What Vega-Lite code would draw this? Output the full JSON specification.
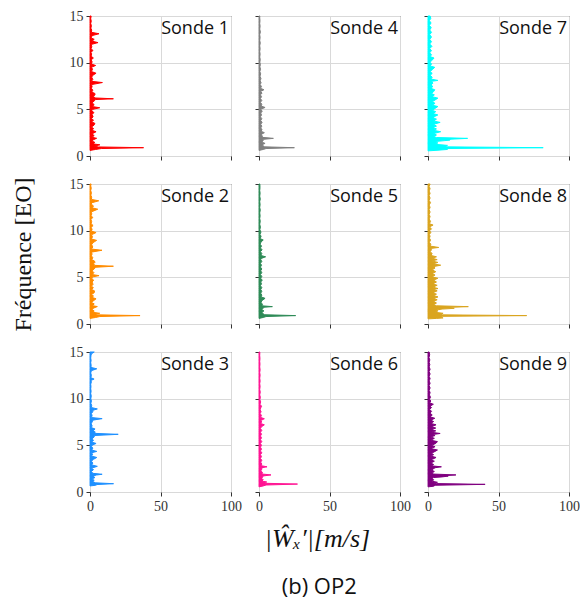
{
"$schema": "https://vega.github.io/schema/vega-lite/v6.json",
"background": "white",
"padding": {"left": 10, "top": 8, "right": 6, "bottom": 4},
"bounds": "flush",
"columns": 3,
"spacing": {"row": 28, "column": 28},
"title": {"text": "(b) OP2", "orient": "bottom", "anchor": "middle", "font": "Open Sans", "fontSize": 22, "fontWeight": "normal", "color": "#111", "offset": 25, "dx": 24},
"config": {
  "view": {"stroke": "#333", "strokeWidth": 1},
  "scale": {"nice": false},
  "axis": {"grid": true, "gridColor": "#d9d9d9", "gridWidth": 1, "domain": false, "tickColor": "#333", "tickSize": 4, "labelFont": "Liberation Serif", "labelFontSize": 14, "labelColor": "#333", "labelFlush": false, "labelPadding": 3, "title": null}
},
"data": {"values": [
{"s":1,"f":0.6,"a":0},{"s":1,"f":0.7,"a":4},{"s":1,"f":0.8,"a":8},{"s":1,"f":0.89,"a":38},{"s":1,"f":0.97,"a":6},{"s":1,"f":1.05,"a":3},{"s":1,"f":1.2,"a":7},{"s":1,"f":1.3,"a":2},{"s":1,"f":1.45,"a":3.5},{"s":1,"f":1.6,"a":1.5},{"s":1,"f":1.75,"a":2.5},{"s":1,"f":1.9,"a":4.7},{"s":1,"f":2.0,"a":1.5},{"s":1,"f":2.2,"a":3},{"s":1,"f":2.35,"a":1.2},{"s":1,"f":2.6,"a":4.3},{"s":1,"f":2.75,"a":1.5},{"s":1,"f":2.95,"a":2.5},{"s":1,"f":3.1,"a":1},{"s":1,"f":3.3,"a":2.8},{"s":1,"f":3.5,"a":3.5},{"s":1,"f":3.65,"a":1.2},{"s":1,"f":3.85,"a":2.5},{"s":1,"f":4.0,"a":1},{"s":1,"f":4.2,"a":2.2},{"s":1,"f":4.45,"a":1.5},{"s":1,"f":4.65,"a":2.8},{"s":1,"f":4.85,"a":1.2},{"s":1,"f":5.0,"a":2},{"s":1,"f":5.17,"a":6.9},{"s":1,"f":5.3,"a":1.5},{"s":1,"f":5.5,"a":3},{"s":1,"f":5.7,"a":1.5},{"s":1,"f":5.9,"a":3},{"s":1,"f":6.05,"a":4},{"s":1,"f":6.13,"a":16.6},{"s":1,"f":6.22,"a":3.5},{"s":1,"f":6.4,"a":2.5},{"s":1,"f":6.55,"a":3.5},{"s":1,"f":6.7,"a":3.5},{"s":1,"f":6.85,"a":1.2},{"s":1,"f":7.05,"a":2},{"s":1,"f":7.25,"a":1},{"s":1,"f":7.45,"a":1.5},{"s":1,"f":7.65,"a":1},{"s":1,"f":7.87,"a":8.8},{"s":1,"f":8.0,"a":1},{"s":1,"f":8.2,"a":2},{"s":1,"f":8.45,"a":1.2},{"s":1,"f":8.65,"a":2},{"s":1,"f":8.87,"a":4.3},{"s":1,"f":9.05,"a":1},{"s":1,"f":9.3,"a":1.8},{"s":1,"f":9.5,"a":1},{"s":1,"f":9.7,"a":4},{"s":1,"f":9.85,"a":1},{"s":1,"f":10.1,"a":1.5},{"s":1,"f":10.3,"a":0.8},{"s":1,"f":10.5,"a":2.4},{"s":1,"f":10.7,"a":0.8},{"s":1,"f":10.95,"a":1.2},{"s":1,"f":11.1,"a":0.6},{"s":1,"f":11.3,"a":2.1},{"s":1,"f":11.5,"a":0.8},{"s":1,"f":11.7,"a":1.3},{"s":1,"f":11.95,"a":0.8},{"s":1,"f":12.15,"a":5.7},{"s":1,"f":12.3,"a":1.5},{"s":1,"f":12.5,"a":3},{"s":1,"f":12.65,"a":0.8},{"s":1,"f":12.9,"a":1.5},{"s":1,"f":13.1,"a":6.4},{"s":1,"f":13.25,"a":1},{"s":1,"f":13.5,"a":1.2},{"s":1,"f":13.7,"a":0.6},{"s":1,"f":13.95,"a":1},{"s":1,"f":14.2,"a":0.5},{"s":1,"f":14.45,"a":0.9},{"s":1,"f":14.7,"a":0.5},{"s":1,"f":15,"a":0.8},
{"s":2,"f":0.6,"a":0},{"s":2,"f":0.7,"a":4},{"s":2,"f":0.8,"a":7},{"s":2,"f":0.9,"a":35.5},{"s":2,"f":0.98,"a":5},{"s":2,"f":1.05,"a":3},{"s":2,"f":1.15,"a":6.9},{"s":2,"f":1.25,"a":2},{"s":2,"f":1.4,"a":3},{"s":2,"f":1.55,"a":1.5},{"s":2,"f":1.7,"a":2.5},{"s":2,"f":1.87,"a":5.2},{"s":2,"f":1.97,"a":1.5},{"s":2,"f":2.15,"a":3},{"s":2,"f":2.3,"a":1.2},{"s":2,"f":2.5,"a":2.5},{"s":2,"f":2.7,"a":4.3},{"s":2,"f":2.85,"a":1.5},{"s":2,"f":3.0,"a":2.5},{"s":2,"f":3.15,"a":1},{"s":2,"f":3.35,"a":3},{"s":2,"f":3.55,"a":3.2},{"s":2,"f":3.7,"a":1.2},{"s":2,"f":3.9,"a":2.4},{"s":2,"f":4.05,"a":1},{"s":2,"f":4.25,"a":2.2},{"s":2,"f":4.5,"a":1.5},{"s":2,"f":4.7,"a":2.6},{"s":2,"f":4.9,"a":1.2},{"s":2,"f":5.05,"a":2},{"s":2,"f":5.18,"a":6.4},{"s":2,"f":5.3,"a":1.5},{"s":2,"f":5.5,"a":2.8},{"s":2,"f":5.7,"a":1.5},{"s":2,"f":5.9,"a":3},{"s":2,"f":6.08,"a":4},{"s":2,"f":6.19,"a":16.6},{"s":2,"f":6.28,"a":3.5},{"s":2,"f":6.45,"a":2.5},{"s":2,"f":6.6,"a":3.5},{"s":2,"f":6.75,"a":3.2},{"s":2,"f":6.9,"a":1.2},{"s":2,"f":7.1,"a":2},{"s":2,"f":7.3,"a":1},{"s":2,"f":7.5,"a":1.5},{"s":2,"f":7.7,"a":1},{"s":2,"f":7.9,"a":8.5},{"s":2,"f":8.03,"a":1},{"s":2,"f":8.25,"a":2},{"s":2,"f":8.5,"a":1.2},{"s":2,"f":8.7,"a":2},{"s":2,"f":8.96,"a":4.7},{"s":2,"f":9.1,"a":1},{"s":2,"f":9.35,"a":1.8},{"s":2,"f":9.55,"a":1},{"s":2,"f":9.8,"a":4.3},{"s":2,"f":9.95,"a":1},{"s":2,"f":10.15,"a":1.5},{"s":2,"f":10.35,"a":0.8},{"s":2,"f":10.55,"a":2.2},{"s":2,"f":10.75,"a":0.8},{"s":2,"f":11.0,"a":1.2},{"s":2,"f":11.2,"a":0.6},{"s":2,"f":11.4,"a":2},{"s":2,"f":11.6,"a":0.8},{"s":2,"f":11.8,"a":1.3},{"s":2,"f":12.0,"a":0.8},{"s":2,"f":12.3,"a":5.5},{"s":2,"f":12.45,"a":1.5},{"s":2,"f":12.65,"a":2.5},{"s":2,"f":12.85,"a":0.8},{"s":2,"f":13.0,"a":1.5},{"s":2,"f":13.2,"a":6.2},{"s":2,"f":13.35,"a":1},{"s":2,"f":13.6,"a":1.2},{"s":2,"f":13.8,"a":0.6},{"s":2,"f":14.05,"a":1},{"s":2,"f":14.3,"a":0.5},{"s":2,"f":14.55,"a":0.9},{"s":2,"f":14.8,"a":0.5},{"s":2,"f":15,"a":0.8},
{"s":3,"f":0.65,"a":0},{"s":3,"f":0.72,"a":4},{"s":3,"f":0.8,"a":5},{"s":3,"f":0.89,"a":16.7},{"s":3,"f":0.98,"a":4},{"s":3,"f":1.1,"a":2},{"s":3,"f":1.25,"a":3},{"s":3,"f":1.4,"a":1.5},{"s":3,"f":1.55,"a":3.5},{"s":3,"f":1.7,"a":2},{"s":3,"f":1.82,"a":4.5},{"s":3,"f":1.9,"a":8.6},{"s":3,"f":2.0,"a":2},{"s":3,"f":2.2,"a":1},{"s":3,"f":2.4,"a":2.5},{"s":3,"f":2.55,"a":1},{"s":3,"f":2.75,"a":5.2},{"s":3,"f":2.9,"a":1.2},{"s":3,"f":3.1,"a":2},{"s":3,"f":3.3,"a":1},{"s":3,"f":3.5,"a":2.5},{"s":3,"f":3.7,"a":4.8},{"s":3,"f":3.85,"a":1},{"s":3,"f":4.05,"a":2},{"s":3,"f":4.2,"a":1},{"s":3,"f":4.35,"a":4.8},{"s":3,"f":4.5,"a":1.2},{"s":3,"f":4.7,"a":2},{"s":3,"f":4.9,"a":1},{"s":3,"f":5.05,"a":2},{"s":3,"f":5.2,"a":4.3},{"s":3,"f":5.35,"a":1.2},{"s":3,"f":5.55,"a":2.5},{"s":3,"f":5.7,"a":1.5},{"s":3,"f":5.9,"a":3},{"s":3,"f":6.05,"a":3},{"s":3,"f":6.18,"a":20},{"s":3,"f":6.28,"a":3.5},{"s":3,"f":6.45,"a":3.5},{"s":3,"f":6.6,"a":2.5},{"s":3,"f":6.75,"a":3.6},{"s":3,"f":6.9,"a":1},{"s":3,"f":7.1,"a":1.5},{"s":3,"f":7.3,"a":0.8},{"s":3,"f":7.5,"a":1.5},{"s":3,"f":7.7,"a":2},{"s":3,"f":7.86,"a":8.6},{"s":3,"f":7.98,"a":1},{"s":3,"f":8.2,"a":1.5},{"s":3,"f":8.4,"a":1},{"s":3,"f":8.6,"a":2},{"s":3,"f":8.75,"a":2},{"s":3,"f":8.9,"a":5.2},{"s":3,"f":9.05,"a":1},{"s":3,"f":9.3,"a":1.2},{"s":3,"f":9.5,"a":0.6},{"s":3,"f":9.75,"a":1},{"s":3,"f":10.0,"a":0.6},{"s":3,"f":10.3,"a":0.9},{"s":3,"f":10.55,"a":0.5},{"s":3,"f":10.8,"a":0.8},{"s":3,"f":11.05,"a":0.5},{"s":3,"f":11.3,"a":0.7},{"s":3,"f":11.55,"a":0.5},{"s":3,"f":11.8,"a":1},{"s":3,"f":11.95,"a":0.6},{"s":3,"f":12.1,"a":2.9},{"s":3,"f":12.25,"a":0.6},{"s":3,"f":12.5,"a":1},{"s":3,"f":12.75,"a":0.5},{"s":3,"f":13.0,"a":1},{"s":3,"f":13.2,"a":4.8},{"s":3,"f":13.35,"a":0.7},{"s":3,"f":13.6,"a":0.8},{"s":3,"f":13.85,"a":0.5},{"s":3,"f":14.1,"a":0.8},{"s":3,"f":14.35,"a":0.5},{"s":3,"f":14.6,"a":0.7},{"s":3,"f":14.8,"a":1},{"s":3,"f":15,"a":3},
{"s":4,"f":0.6,"a":0},{"s":4,"f":0.7,"a":3},{"s":4,"f":0.8,"a":5},{"s":4,"f":0.89,"a":25.1},{"s":4,"f":0.98,"a":4},{"s":4,"f":1.1,"a":3},{"s":4,"f":1.2,"a":2},{"s":4,"f":1.35,"a":4.3},{"s":4,"f":1.5,"a":2},{"s":4,"f":1.65,"a":3},{"s":4,"f":1.78,"a":2.5},{"s":4,"f":1.89,"a":10.2},{"s":4,"f":2.0,"a":2},{"s":4,"f":2.15,"a":2.5},{"s":4,"f":2.3,"a":1.5},{"s":4,"f":2.5,"a":3.8},{"s":4,"f":2.65,"a":1.5},{"s":4,"f":2.85,"a":2.2},{"s":4,"f":3.0,"a":1.2},{"s":4,"f":3.2,"a":2},{"s":4,"f":3.4,"a":1.2},{"s":4,"f":3.6,"a":2.2},{"s":4,"f":3.8,"a":1.2},{"s":4,"f":4.0,"a":2},{"s":4,"f":4.2,"a":1},{"s":4,"f":4.4,"a":1.8},{"s":4,"f":4.6,"a":1.2},{"s":4,"f":4.8,"a":2.3},{"s":4,"f":5.0,"a":1.2},{"s":4,"f":5.2,"a":4.3},{"s":4,"f":5.35,"a":1.5},{"s":4,"f":5.55,"a":2},{"s":4,"f":5.75,"a":1},{"s":4,"f":5.95,"a":2},{"s":4,"f":6.15,"a":1},{"s":4,"f":6.35,"a":1.8},{"s":4,"f":6.55,"a":1},{"s":4,"f":6.75,"a":2.2},{"s":4,"f":6.9,"a":1},{"s":4,"f":7.1,"a":3.5},{"s":4,"f":7.25,"a":1},{"s":4,"f":7.45,"a":1.8},{"s":4,"f":7.65,"a":0.8},{"s":4,"f":7.85,"a":1.5},{"s":4,"f":8.05,"a":0.8},{"s":4,"f":8.3,"a":1.4},{"s":4,"f":8.55,"a":0.7},{"s":4,"f":8.8,"a":1.2},{"s":4,"f":9.05,"a":0.6},{"s":4,"f":9.3,"a":1.1},{"s":4,"f":9.55,"a":0.6},{"s":4,"f":9.8,"a":1},{"s":4,"f":10.05,"a":0.6},{"s":4,"f":10.35,"a":0.9},{"s":4,"f":10.6,"a":0.5},{"s":4,"f":10.9,"a":0.8},{"s":4,"f":11.2,"a":0.5},{"s":4,"f":11.5,"a":0.8},{"s":4,"f":11.8,"a":0.5},{"s":4,"f":12.1,"a":0.9},{"s":4,"f":12.4,"a":0.5},{"s":4,"f":12.7,"a":0.8},{"s":4,"f":13.0,"a":0.5},{"s":4,"f":13.3,"a":1},{"s":4,"f":13.6,"a":0.5},{"s":4,"f":13.9,"a":0.8},{"s":4,"f":14.2,"a":0.5},{"s":4,"f":14.5,"a":0.7},{"s":4,"f":14.8,"a":0.5},{"s":4,"f":15,"a":0.6},
{"s":5,"f":0.6,"a":0},{"s":5,"f":0.7,"a":3},{"s":5,"f":0.8,"a":5},{"s":5,"f":0.9,"a":26},{"s":5,"f":0.99,"a":4},{"s":5,"f":1.1,"a":3},{"s":5,"f":1.25,"a":2},{"s":5,"f":1.4,"a":3.5},{"s":5,"f":1.55,"a":2},{"s":5,"f":1.7,"a":3},{"s":5,"f":1.8,"a":3.5},{"s":5,"f":1.86,"a":9.5},{"s":5,"f":1.95,"a":2},{"s":5,"f":2.1,"a":2.5},{"s":5,"f":2.3,"a":1.5},{"s":5,"f":2.5,"a":2},{"s":5,"f":2.75,"a":4.3},{"s":5,"f":2.9,"a":1.5},{"s":5,"f":3.1,"a":2},{"s":5,"f":3.3,"a":1.2},{"s":5,"f":3.5,"a":2},{"s":5,"f":3.7,"a":1.2},{"s":5,"f":3.9,"a":2},{"s":5,"f":4.1,"a":1},{"s":5,"f":4.3,"a":1.8},{"s":5,"f":4.5,"a":1.2},{"s":5,"f":4.7,"a":2.3},{"s":5,"f":4.9,"a":1.2},{"s":5,"f":5.1,"a":2},{"s":5,"f":5.3,"a":1},{"s":5,"f":5.5,"a":2},{"s":5,"f":5.7,"a":1.2},{"s":5,"f":5.9,"a":2},{"s":5,"f":6.1,"a":1},{"s":5,"f":6.3,"a":1.8},{"s":5,"f":6.5,"a":1},{"s":5,"f":6.7,"a":2},{"s":5,"f":6.9,"a":1.2},{"s":5,"f":7.05,"a":2},{"s":5,"f":7.2,"a":4.7},{"s":5,"f":7.35,"a":1.2},{"s":5,"f":7.55,"a":2},{"s":5,"f":7.75,"a":1},{"s":5,"f":7.95,"a":2.2},{"s":5,"f":8.15,"a":1},{"s":5,"f":8.35,"a":1.8},{"s":5,"f":8.55,"a":0.8},{"s":5,"f":8.8,"a":1.5},{"s":5,"f":9.0,"a":3},{"s":5,"f":9.15,"a":0.8},{"s":5,"f":9.4,"a":1.5},{"s":5,"f":9.6,"a":0.7},{"s":5,"f":9.85,"a":1.4},{"s":5,"f":10.1,"a":0.6},{"s":5,"f":10.4,"a":1},{"s":5,"f":10.7,"a":0.5},{"s":5,"f":11.0,"a":0.9},{"s":5,"f":11.3,"a":0.5},{"s":5,"f":11.6,"a":0.8},{"s":5,"f":11.9,"a":0.5},{"s":5,"f":12.2,"a":0.9},{"s":5,"f":12.5,"a":0.5},{"s":5,"f":12.8,"a":0.8},{"s":5,"f":13.1,"a":0.5},{"s":5,"f":13.4,"a":0.9},{"s":5,"f":13.7,"a":0.5},{"s":5,"f":14.0,"a":0.8},{"s":5,"f":14.3,"a":0.5},{"s":5,"f":14.6,"a":0.7},{"s":5,"f":15,"a":0.6},
{"s":6,"f":0.55,"a":0},{"s":6,"f":0.65,"a":3},{"s":6,"f":0.75,"a":5},{"s":6,"f":0.85,"a":27.3},{"s":6,"f":0.93,"a":5},{"s":6,"f":1.0,"a":3},{"s":6,"f":1.07,"a":5.5},{"s":6,"f":1.17,"a":2},{"s":6,"f":1.3,"a":3},{"s":6,"f":1.45,"a":2},{"s":6,"f":1.6,"a":2.5},{"s":6,"f":1.72,"a":3},{"s":6,"f":1.83,"a":8.5},{"s":6,"f":1.93,"a":2},{"s":6,"f":2.1,"a":2.5},{"s":6,"f":2.25,"a":1.2},{"s":6,"f":2.45,"a":2},{"s":6,"f":2.6,"a":2},{"s":6,"f":2.7,"a":5.7},{"s":6,"f":2.82,"a":1.5},{"s":6,"f":3.0,"a":2},{"s":6,"f":3.2,"a":1.2},{"s":6,"f":3.4,"a":2},{"s":6,"f":3.6,"a":1},{"s":6,"f":3.8,"a":1.8},{"s":6,"f":4.0,"a":1},{"s":6,"f":4.2,"a":2},{"s":6,"f":4.4,"a":1},{"s":6,"f":4.6,"a":1.8},{"s":6,"f":4.8,"a":1},{"s":6,"f":5.0,"a":1.8},{"s":6,"f":5.2,"a":1},{"s":6,"f":5.4,"a":2},{"s":6,"f":5.6,"a":1},{"s":6,"f":5.8,"a":1.8},{"s":6,"f":6.0,"a":1},{"s":6,"f":6.2,"a":1.8},{"s":6,"f":6.4,"a":1},{"s":6,"f":6.6,"a":2},{"s":6,"f":6.8,"a":1},{"s":6,"f":7.0,"a":1.8},{"s":6,"f":7.2,"a":3.8},{"s":6,"f":7.35,"a":1},{"s":6,"f":7.5,"a":2},{"s":6,"f":7.65,"a":1.2},{"s":6,"f":7.85,"a":3.8},{"s":6,"f":8.0,"a":1},{"s":6,"f":8.2,"a":1.8},{"s":6,"f":8.4,"a":0.8},{"s":6,"f":8.6,"a":1.5},{"s":6,"f":8.8,"a":0.8},{"s":6,"f":9.0,"a":1.2},{"s":6,"f":9.2,"a":1.8},{"s":6,"f":9.4,"a":0.7},{"s":6,"f":9.65,"a":1.2},{"s":6,"f":9.9,"a":0.6},{"s":6,"f":10.15,"a":1},{"s":6,"f":10.4,"a":0.5},{"s":6,"f":10.7,"a":0.9},{"s":6,"f":11.0,"a":0.5},{"s":6,"f":11.3,"a":0.8},{"s":6,"f":11.6,"a":0.5},{"s":6,"f":11.9,"a":0.8},{"s":6,"f":12.2,"a":0.5},{"s":6,"f":12.5,"a":0.8},{"s":6,"f":12.8,"a":0.5},{"s":6,"f":13.1,"a":0.8},{"s":6,"f":13.4,"a":0.5},{"s":6,"f":13.7,"a":0.7},{"s":6,"f":14.0,"a":0.5},{"s":6,"f":14.3,"a":0.7},{"s":6,"f":14.6,"a":0.5},{"s":6,"f":15,"a":0.6},
{"s":7,"f":0.55,"a":0},{"s":7,"f":0.6,"a":5},{"s":7,"f":0.7,"a":13.8},{"s":7,"f":0.8,"a":13},{"s":7,"f":0.89,"a":81.7},{"s":7,"f":0.98,"a":12},{"s":7,"f":1.05,"a":13},{"s":7,"f":1.14,"a":13.8},{"s":7,"f":1.25,"a":5},{"s":7,"f":1.4,"a":7},{"s":7,"f":1.55,"a":5},{"s":7,"f":1.65,"a":12},{"s":7,"f":1.7,"a":15.5},{"s":7,"f":1.8,"a":16},{"s":7,"f":1.89,"a":28.1},{"s":7,"f":1.98,"a":6},{"s":7,"f":2.1,"a":4},{"s":7,"f":2.25,"a":6},{"s":7,"f":2.4,"a":4},{"s":7,"f":2.6,"a":9},{"s":7,"f":2.75,"a":4},{"s":7,"f":2.9,"a":6},{"s":7,"f":3.05,"a":3.5},{"s":7,"f":3.2,"a":6},{"s":7,"f":3.4,"a":4},{"s":7,"f":3.6,"a":8.6},{"s":7,"f":3.75,"a":4},{"s":7,"f":3.95,"a":6},{"s":7,"f":4.1,"a":3.5},{"s":7,"f":4.25,"a":5},{"s":7,"f":4.4,"a":7},{"s":7,"f":4.55,"a":3.5},{"s":7,"f":4.75,"a":5.5},{"s":7,"f":4.9,"a":3},{"s":7,"f":5.1,"a":5},{"s":7,"f":5.3,"a":7},{"s":7,"f":5.45,"a":3},{"s":7,"f":5.65,"a":5},{"s":7,"f":5.8,"a":3},{"s":7,"f":6.0,"a":5},{"s":7,"f":6.2,"a":7},{"s":7,"f":6.35,"a":3},{"s":7,"f":6.55,"a":4.5},{"s":7,"f":6.7,"a":2.5},{"s":7,"f":6.9,"a":4},{"s":7,"f":7.1,"a":4.8},{"s":7,"f":7.25,"a":2},{"s":7,"f":7.45,"a":3.5},{"s":7,"f":7.6,"a":2},{"s":7,"f":7.8,"a":3.5},{"s":7,"f":8.0,"a":2.5},{"s":7,"f":8.1,"a":7},{"s":7,"f":8.25,"a":2},{"s":7,"f":8.45,"a":3},{"s":7,"f":8.65,"a":1.5},{"s":7,"f":8.85,"a":3},{"s":7,"f":9.05,"a":1.5},{"s":7,"f":9.25,"a":3},{"s":7,"f":9.5,"a":4.8},{"s":7,"f":9.65,"a":1.5},{"s":7,"f":9.85,"a":2.5},{"s":7,"f":10.05,"a":1.5},{"s":7,"f":10.25,"a":2.8},{"s":7,"f":10.5,"a":4.3},{"s":7,"f":10.65,"a":1.5},{"s":7,"f":10.85,"a":2.5},{"s":7,"f":11.05,"a":1.2},{"s":7,"f":11.3,"a":2.5},{"s":7,"f":11.5,"a":1.2},{"s":7,"f":11.75,"a":2.8},{"s":7,"f":12.0,"a":1.2},{"s":7,"f":12.25,"a":2.5},{"s":7,"f":12.5,"a":1.2},{"s":7,"f":12.75,"a":2.5},{"s":7,"f":13.0,"a":1.2},{"s":7,"f":13.25,"a":2.5},{"s":7,"f":13.5,"a":1.2},{"s":7,"f":13.75,"a":2.3},{"s":7,"f":14.0,"a":1},{"s":7,"f":14.25,"a":2.2},{"s":7,"f":14.5,"a":1},{"s":7,"f":14.75,"a":2},{"s":7,"f":15,"a":1.5},
{"s":8,"f":0.55,"a":0},{"s":8,"f":0.6,"a":6},{"s":8,"f":0.65,"a":10.7},{"s":8,"f":0.75,"a":9},{"s":8,"f":0.82,"a":10},{"s":8,"f":0.9,"a":70},{"s":8,"f":0.98,"a":10},{"s":8,"f":1.05,"a":9},{"s":8,"f":1.15,"a":10.7},{"s":8,"f":1.25,"a":5},{"s":8,"f":1.4,"a":7},{"s":8,"f":1.5,"a":6},{"s":8,"f":1.6,"a":10},{"s":8,"f":1.68,"a":18.6},{"s":8,"f":1.78,"a":14},{"s":8,"f":1.86,"a":28.6},{"s":8,"f":1.95,"a":6},{"s":8,"f":2.1,"a":4},{"s":8,"f":2.25,"a":6},{"s":8,"f":2.4,"a":4},{"s":8,"f":2.6,"a":6.5},{"s":8,"f":2.75,"a":4},{"s":8,"f":2.9,"a":7.1},{"s":8,"f":3.05,"a":4},{"s":8,"f":3.2,"a":6},{"s":8,"f":3.35,"a":3.5},{"s":8,"f":3.55,"a":6.5},{"s":8,"f":3.7,"a":4},{"s":8,"f":3.8,"a":7.1},{"s":8,"f":3.95,"a":3.5},{"s":8,"f":4.15,"a":6.5},{"s":8,"f":4.3,"a":3.5},{"s":8,"f":4.5,"a":6},{"s":8,"f":4.7,"a":4},{"s":8,"f":4.9,"a":7},{"s":8,"f":5.05,"a":3},{"s":8,"f":5.25,"a":5},{"s":8,"f":5.4,"a":3},{"s":8,"f":5.6,"a":5.5},{"s":8,"f":5.8,"a":3},{"s":8,"f":6.0,"a":5},{"s":8,"f":6.15,"a":4},{"s":8,"f":6.3,"a":9},{"s":8,"f":6.45,"a":3.5},{"s":8,"f":6.6,"a":7},{"s":8,"f":6.75,"a":3},{"s":8,"f":6.9,"a":6.5},{"s":8,"f":7.05,"a":3},{"s":8,"f":7.2,"a":6},{"s":8,"f":7.35,"a":2},{"s":8,"f":7.55,"a":3},{"s":8,"f":7.75,"a":1.5},{"s":8,"f":7.95,"a":2.5},{"s":8,"f":8.1,"a":2},{"s":8,"f":8.2,"a":7.6},{"s":8,"f":8.35,"a":1.5},{"s":8,"f":8.55,"a":2},{"s":8,"f":8.75,"a":1},{"s":8,"f":9.0,"a":1.8},{"s":8,"f":9.2,"a":1},{"s":8,"f":9.4,"a":1.5},{"s":8,"f":9.6,"a":1},{"s":8,"f":9.8,"a":2},{"s":8,"f":10.0,"a":1.2},{"s":8,"f":10.2,"a":2.5},{"s":8,"f":10.4,"a":1},{"s":8,"f":10.6,"a":3.6},{"s":8,"f":10.75,"a":1},{"s":8,"f":11.0,"a":1.8},{"s":8,"f":11.25,"a":0.8},{"s":8,"f":11.5,"a":1.5},{"s":8,"f":11.75,"a":0.8},{"s":8,"f":12.0,"a":1.5},{"s":8,"f":12.25,"a":0.8},{"s":8,"f":12.5,"a":1.5},{"s":8,"f":12.75,"a":0.8},{"s":8,"f":13.0,"a":1.8},{"s":8,"f":13.25,"a":0.8},{"s":8,"f":13.5,"a":1.5},{"s":8,"f":13.75,"a":0.8},{"s":8,"f":14.0,"a":1.5},{"s":8,"f":14.25,"a":0.8},{"s":8,"f":14.5,"a":1.5},{"s":8,"f":14.75,"a":0.8},{"s":8,"f":15,"a":1.5},
{"s":9,"f":0.55,"a":0},{"s":9,"f":0.62,"a":4},{"s":9,"f":0.72,"a":5},{"s":9,"f":0.82,"a":40.5},{"s":9,"f":0.9,"a":6},{"s":9,"f":0.97,"a":4},{"s":9,"f":1.04,"a":6.7},{"s":9,"f":1.15,"a":3},{"s":9,"f":1.3,"a":4},{"s":9,"f":1.45,"a":3},{"s":9,"f":1.55,"a":4},{"s":9,"f":1.62,"a":10},{"s":9,"f":1.7,"a":14.3},{"s":9,"f":1.76,"a":13},{"s":9,"f":1.83,"a":19.8},{"s":9,"f":1.92,"a":4},{"s":9,"f":2.05,"a":3},{"s":9,"f":2.2,"a":4.5},{"s":9,"f":2.35,"a":2.5},{"s":9,"f":2.5,"a":4},{"s":9,"f":2.6,"a":5},{"s":9,"f":2.7,"a":9.5},{"s":9,"f":2.8,"a":2.5},{"s":9,"f":2.95,"a":4},{"s":9,"f":3.1,"a":2},{"s":9,"f":3.3,"a":4.5},{"s":9,"f":3.45,"a":2},{"s":9,"f":3.6,"a":4.5},{"s":9,"f":3.7,"a":5.7},{"s":9,"f":3.85,"a":2},{"s":9,"f":4.0,"a":4},{"s":9,"f":4.15,"a":2.5},{"s":9,"f":4.35,"a":5},{"s":9,"f":4.5,"a":6.7},{"s":9,"f":4.65,"a":2},{"s":9,"f":4.85,"a":5},{"s":9,"f":5.0,"a":2.5},{"s":9,"f":5.2,"a":5.5},{"s":9,"f":5.4,"a":6.7},{"s":9,"f":5.55,"a":2},{"s":9,"f":5.75,"a":4.5},{"s":9,"f":5.9,"a":2},{"s":9,"f":6.05,"a":5},{"s":9,"f":6.15,"a":3},{"s":9,"f":6.27,"a":8.6},{"s":9,"f":6.4,"a":2.5},{"s":9,"f":6.55,"a":5.5},{"s":9,"f":6.7,"a":2.5},{"s":9,"f":6.85,"a":5.5},{"s":9,"f":7.0,"a":2.5},{"s":9,"f":7.2,"a":5.7},{"s":9,"f":7.35,"a":2},{"s":9,"f":7.55,"a":4},{"s":9,"f":7.7,"a":2},{"s":9,"f":7.9,"a":4.8},{"s":9,"f":8.05,"a":1.5},{"s":9,"f":8.25,"a":3},{"s":9,"f":8.45,"a":1.5},{"s":9,"f":8.65,"a":2.5},{"s":9,"f":8.85,"a":1.2},{"s":9,"f":9.05,"a":2.5},{"s":9,"f":9.2,"a":1.5},{"s":9,"f":9.4,"a":3.8},{"s":9,"f":9.55,"a":1.2},{"s":9,"f":9.75,"a":2},{"s":9,"f":9.95,"a":1},{"s":9,"f":10.15,"a":1.8},{"s":9,"f":10.4,"a":1},{"s":9,"f":10.65,"a":1.5},{"s":9,"f":10.9,"a":0.8},{"s":9,"f":11.15,"a":1.5},{"s":9,"f":11.4,"a":0.8},{"s":9,"f":11.65,"a":1.5},{"s":9,"f":11.9,"a":0.8},{"s":9,"f":12.15,"a":1.5},{"s":9,"f":12.4,"a":0.8},{"s":9,"f":12.65,"a":1.5},{"s":9,"f":12.9,"a":0.8},{"s":9,"f":13.15,"a":1.5},{"s":9,"f":13.4,"a":0.8},{"s":9,"f":13.65,"a":1.3},{"s":9,"f":13.9,"a":0.8},{"s":9,"f":14.15,"a":1.3},{"s":9,"f":14.4,"a":0.7},{"s":9,"f":14.7,"a":1.2},{"s":9,"f":15,"a":0.8}
]},
"concat": [
{"width":141,"height":140,"layer":[
 {"transform":[{"filter":"datum.s==1"}],"mark":{"type":"area","orient":"horizontal","color":"#ff0000","stroke":"#ff0000","strokeWidth":1},
  "encoding":{"x":{"field":"a","type":"quantitative","scale":{"domain":[0,100],"nice":false},"axis":{"values":[0,50,100],"labels":false}},"y":{"field":"f","type":"quantitative","scale":{"domain":[0,15],"nice":false},"axis":{"values":[0,5,10,15]}}}},
 {"data":{"values":[{"label":"Sonde 1"}]},"mark":{"type":"text","align":"right","baseline":"top","font":"Open Sans","fontSize":18,"color":"#111","dx":-2,"dy":4},
  "encoding":{"x":{"datum":100,"scale":{"domain":[0,100],"nice":false}},"y":{"datum":15,"scale":{"domain":[0,15],"nice":false}},"text":{"field":"label"}}}]},
{"width":141,"height":140,"layer":[
 {"transform":[{"filter":"datum.s==4"}],"mark":{"type":"area","orient":"horizontal","color":"#808080","stroke":"#808080","strokeWidth":1},
  "encoding":{"x":{"field":"a","type":"quantitative","scale":{"domain":[0,100],"nice":false},"axis":{"values":[0,50,100],"labels":false}},"y":{"field":"f","type":"quantitative","scale":{"domain":[0,15],"nice":false},"axis":{"values":[0,5,10,15],"labels":false}}}},
 {"data":{"values":[{"label":"Sonde 4"}]},"mark":{"type":"text","align":"right","baseline":"top","font":"Open Sans","fontSize":18,"color":"#111","dx":-2,"dy":4},
  "encoding":{"x":{"datum":100,"scale":{"domain":[0,100],"nice":false}},"y":{"datum":15,"scale":{"domain":[0,15],"nice":false}},"text":{"field":"label"}}}]},
{"width":141,"height":140,"layer":[
 {"transform":[{"filter":"datum.s==7"}],"mark":{"type":"area","orient":"horizontal","color":"#00ffff","stroke":"#00ffff","strokeWidth":1},
  "encoding":{"x":{"field":"a","type":"quantitative","scale":{"domain":[0,100],"nice":false},"axis":{"values":[0,50,100],"labels":false}},"y":{"field":"f","type":"quantitative","scale":{"domain":[0,15],"nice":false},"axis":{"values":[0,5,10,15],"labels":false}}}},
 {"data":{"values":[{"label":"Sonde 7"}]},"mark":{"type":"text","align":"right","baseline":"top","font":"Open Sans","fontSize":18,"color":"#111","dx":-2,"dy":4},
  "encoding":{"x":{"datum":100,"scale":{"domain":[0,100],"nice":false}},"y":{"datum":15,"scale":{"domain":[0,15],"nice":false}},"text":{"field":"label"}}}]},
{"width":141,"height":140,"layer":[
 {"transform":[{"filter":"datum.s==2"}],"mark":{"type":"area","orient":"horizontal","color":"#ff8c00","stroke":"#ff8c00","strokeWidth":1},
  "encoding":{"x":{"field":"a","type":"quantitative","scale":{"domain":[0,100],"nice":false},"axis":{"values":[0,50,100],"labels":false}},"y":{"field":"f","type":"quantitative","scale":{"domain":[0,15],"nice":false},"axis":{"values":[0,5,10,15],"title":"Fréquence [EO]","titleFont":"Liberation Serif","titleFontSize":24,"titleFontWeight":"normal","titleColor":"#111","titlePadding":34}}}},
 {"data":{"values":[{"label":"Sonde 2"}]},"mark":{"type":"text","align":"right","baseline":"top","font":"Open Sans","fontSize":18,"color":"#111","dx":-2,"dy":4},
  "encoding":{"x":{"datum":100,"scale":{"domain":[0,100],"nice":false}},"y":{"datum":15,"scale":{"domain":[0,15],"nice":false}},"text":{"field":"label"}}}]},
{"width":141,"height":140,"layer":[
 {"transform":[{"filter":"datum.s==5"}],"mark":{"type":"area","orient":"horizontal","color":"#2e8b57","stroke":"#2e8b57","strokeWidth":1},
  "encoding":{"x":{"field":"a","type":"quantitative","scale":{"domain":[0,100],"nice":false},"axis":{"values":[0,50,100],"labels":false}},"y":{"field":"f","type":"quantitative","scale":{"domain":[0,15],"nice":false},"axis":{"values":[0,5,10,15],"labels":false}}}},
 {"data":{"values":[{"label":"Sonde 5"}]},"mark":{"type":"text","align":"right","baseline":"top","font":"Open Sans","fontSize":18,"color":"#111","dx":-2,"dy":4},
  "encoding":{"x":{"datum":100,"scale":{"domain":[0,100],"nice":false}},"y":{"datum":15,"scale":{"domain":[0,15],"nice":false}},"text":{"field":"label"}}}]},
{"width":141,"height":140,"layer":[
 {"transform":[{"filter":"datum.s==8"}],"mark":{"type":"area","orient":"horizontal","color":"#daa520","stroke":"#daa520","strokeWidth":1},
  "encoding":{"x":{"field":"a","type":"quantitative","scale":{"domain":[0,100],"nice":false},"axis":{"values":[0,50,100],"labels":false}},"y":{"field":"f","type":"quantitative","scale":{"domain":[0,15],"nice":false},"axis":{"values":[0,5,10,15],"labels":false}}}},
 {"data":{"values":[{"label":"Sonde 8"}]},"mark":{"type":"text","align":"right","baseline":"top","font":"Open Sans","fontSize":18,"color":"#111","dx":-2,"dy":4},
  "encoding":{"x":{"datum":100,"scale":{"domain":[0,100],"nice":false}},"y":{"datum":15,"scale":{"domain":[0,15],"nice":false}},"text":{"field":"label"}}}]},
{"width":141,"height":140,"layer":[
 {"transform":[{"filter":"datum.s==3"}],"mark":{"type":"area","orient":"horizontal","color":"#1e90ff","stroke":"#1e90ff","strokeWidth":1},
  "encoding":{"x":{"field":"a","type":"quantitative","scale":{"domain":[0,100],"nice":false},"axis":{"values":[0,50,100]}},"y":{"field":"f","type":"quantitative","scale":{"domain":[0,15],"nice":false},"axis":{"values":[0,5,10,15]}}}},
 {"data":{"values":[{"label":"Sonde 3"}]},"mark":{"type":"text","align":"right","baseline":"top","font":"Open Sans","fontSize":18,"color":"#111","dx":-2,"dy":4},
  "encoding":{"x":{"datum":100,"scale":{"domain":[0,100],"nice":false}},"y":{"datum":15,"scale":{"domain":[0,15],"nice":false}},"text":{"field":"label"}}}]},
{"width":141,"height":140,"layer":[
 {"transform":[{"filter":"datum.s==6"}],"mark":{"type":"area","orient":"horizontal","color":"#ff1493","stroke":"#ff1493","strokeWidth":1},
  "encoding":{"x":{"field":"a","type":"quantitative","scale":{"domain":[0,100],"nice":false},"axis":{"values":[0,50,100],"title":"|Ŵₓ′|[m/s]","titleFont":"Liberation Serif","titleFontSize":26,"titleFontStyle":"italic","titleFontWeight":"normal","titleColor":"#111","titlePadding":12,"titleX":58}},"y":{"field":"f","type":"quantitative","scale":{"domain":[0,15],"nice":false},"axis":{"values":[0,5,10,15],"labels":false}}}},
 {"data":{"values":[{"label":"Sonde 6"}]},"mark":{"type":"text","align":"right","baseline":"top","font":"Open Sans","fontSize":18,"color":"#111","dx":-2,"dy":4},
  "encoding":{"x":{"datum":100,"scale":{"domain":[0,100],"nice":false}},"y":{"datum":15,"scale":{"domain":[0,15],"nice":false}},"text":{"field":"label"}}}]},
{"width":141,"height":140,"layer":[
 {"transform":[{"filter":"datum.s==9"}],"mark":{"type":"area","orient":"horizontal","color":"#800080","stroke":"#800080","strokeWidth":1},
  "encoding":{"x":{"field":"a","type":"quantitative","scale":{"domain":[0,100],"nice":false},"axis":{"values":[0,50,100]}},"y":{"field":"f","type":"quantitative","scale":{"domain":[0,15],"nice":false},"axis":{"values":[0,5,10,15],"labels":false}}}},
 {"data":{"values":[{"label":"Sonde 9"}]},"mark":{"type":"text","align":"right","baseline":"top","font":"Open Sans","fontSize":18,"color":"#111","dx":-2,"dy":4},
  "encoding":{"x":{"datum":100,"scale":{"domain":[0,100],"nice":false}},"y":{"datum":15,"scale":{"domain":[0,15],"nice":false}},"text":{"field":"label"}}}]}
]
}
